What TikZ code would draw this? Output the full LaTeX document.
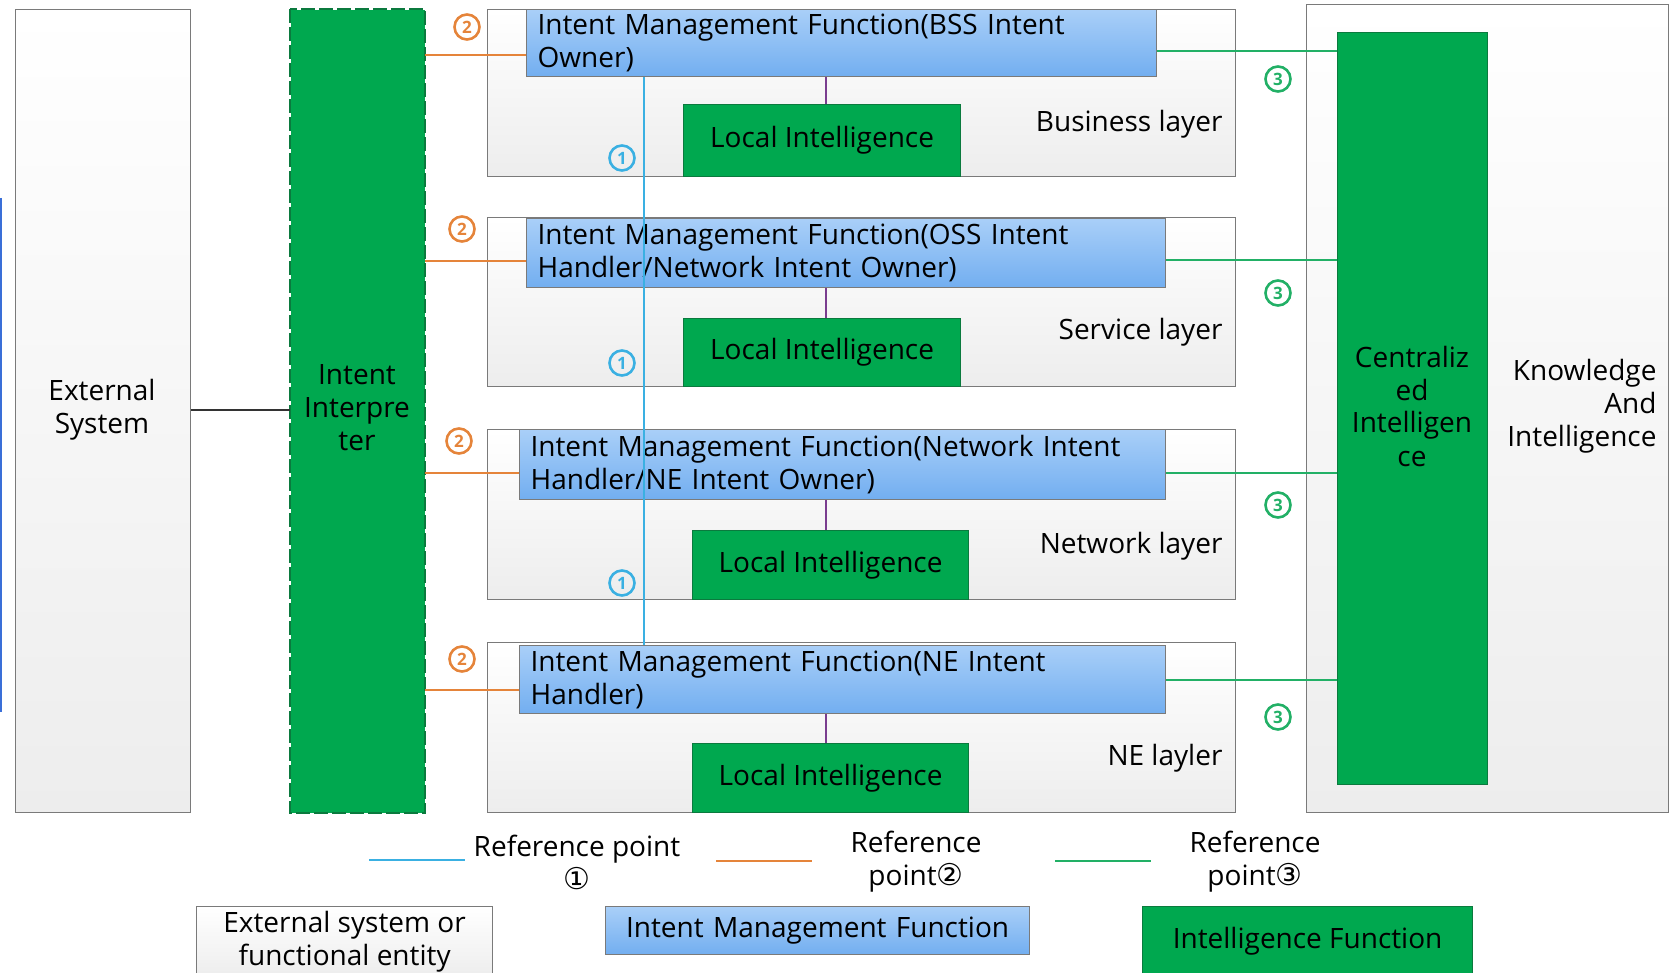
\documentclass[tikz,border=0pt]{standalone}
\usepackage{fontspec}
\setmainfont{Open Sans}
\newfontfamily\symfont{DejaVu Sans}
\usetikzlibrary{calc}
\definecolor{imfTop}{HTML}{A9CFF8}
\definecolor{imfBot}{HTML}{72AEF0}
\definecolor{intGreen}{HTML}{00A84F}
\definecolor{intBorder}{HTML}{0B7A3E}
\definecolor{boxBorder}{HTML}{7A7A7A}
\definecolor{layerBot}{HTML}{EDEDED}
\definecolor{refBlue}{HTML}{3AB0E2}
\definecolor{refOrange}{HTML}{E5843A}
\definecolor{refGreen}{HTML}{22B066}
\definecolor{refPurple}{HTML}{7A3D8F}
\definecolor{edgeBlue}{HTML}{3A6FD8}
\newcommand{\legcirc}[1]{{\symfont\fontsize{30}{30}\selectfont #1}}
\tikzset{
  txt/.style={font=\fontsize{28}{33}\selectfont, text=black},
  graybox/.style={draw=boxBorder, line width=1.2pt, top color=white, bottom color=layerBot, anchor=north west, inner sep=0pt},
  imfbox/.style={draw=boxBorder, line width=1.2pt, top color=imfTop, bottom color=imfBot, anchor=north west, inner xsep=11pt, inner ysep=0pt, align=left, txt},
  intbox/.style={draw=intBorder, line width=1.2pt, fill=intGreen, anchor=north west, inner sep=0pt, align=center, txt},
  circnum/.style={circle, draw, line width=2.6pt, minimum size=25pt, inner sep=0pt, font=\bfseries\fontsize{17}{17}\selectfont},
  reflineA/.style={refBlue, line width=2.2pt},
  reflineB/.style={refOrange, line width=2.2pt},
  reflineC/.style={refGreen, line width=2.2pt},
  linkline/.style={refPurple, line width=1.5pt},
}
\begin{document}
\begin{tikzpicture}[x=1pt, y=-1pt]
\useasboundingbox (0,0) rectangle (1671,973);
% left edge artifact line
\draw[edgeBlue, line width=2pt] (1,198) -- (1,712);

% External system
\node[graybox, minimum width=175, minimum height=803] (ext) at (15,9) {};
\node[txt, align=center] (extT) at (102,410) {External\\System};

% Intent interpreter
\node[intbox, draw=none, minimum width=134, minimum height=803] (interp) at (290,9) {};
\draw[intBorder, line width=1.6pt, dash pattern=on 14pt off 4pt] (interp.north west) rectangle (interp.south east);
\node[txt, align=center] (interpT) at (357,408) {Intent\\Interpre\\ter};

% Knowledge and intelligence
\node[graybox, minimum width=362, minimum height=808] (know) at (1306,4) {};
\node[intbox, minimum width=150, minimum height=752] (central) at (1337,32) {};
\node[txt, align=center] (centralT) at (1412,406) {Centraliz\\ed\\Intelligen\\ce};
\node[txt, align=right, anchor=east] (knowT) at (1660,406) {Knowledge\\And\\Intelligence};

% Layers
\node[graybox, minimum width=748, minimum height=167] (lay1) at (487,9) {};
\node[graybox, minimum width=748, minimum height=169] (lay2) at (487,217) {};
\node[graybox, minimum width=748, minimum height=170] (lay3) at (487,429) {};
\node[graybox, minimum width=748, minimum height=170] (lay4) at (487,642) {};

\node[txt, anchor=east] (lay1T) at (1226,124) {Business layer};
\node[txt, anchor=east] (lay2T) at (1226,332) {Service layer};
\node[txt, anchor=east] (lay3T) at (1226,546) {Network layer};
\node[txt, anchor=east] (lay4T) at (1226,758) {NE layler};

% IMF boxes
\node[imfbox, text width=608, minimum height=67] (imf1) at (526,9) {Intent Management Function(BSS Intent\\Owner)};
\node[imfbox, text width=617, minimum height=69] (imf2) at (526,218) {Intent Management Function(OSS Intent\\Handler/Network Intent Owner)};
\node[imfbox, text width=624, minimum height=70] (imf3) at (519,429) {Intent Management Function(Network Intent\\Handler/NE Intent Owner)};
\node[imfbox, text width=624, minimum height=68] (imf4) at (519,645) {Intent Management Function(NE Intent\\Handler)};

% Local intelligence
\node[intbox, minimum width=277, minimum height=72] (li1) at (683,104) {Local Intelligence};
\node[intbox, minimum width=277, minimum height=68] (li2) at (683,318) {Local Intelligence};
\node[intbox, minimum width=276, minimum height=69] (li3) at (692,530) {Local Intelligence};
\node[intbox, minimum width=276, minimum height=69] (li4) at (692,743) {Local Intelligence};

% IMF to local intelligence
\coordinate (pX) at (826,0);
\foreach \i in {1,2,3,4} {
  \draw[linkline] (imf\i.south -| pX) -- (li\i.north -| pX);
}

% External to interpreter
\draw[black!80, line width=2pt] (ext.east |- extT) -- (interp.west |- extT);

% Reference point 1 (vertical)
\coordinate (r1top) at ([xshift=118pt]imf1.south west);
\draw[reflineA] (r1top) -- (r1top |- imf4.north);

% Reference point 2 (orange)
\coordinate (o1) at ([yshift=-12pt]imf1.west);
\coordinate (o2) at ([yshift=-8pt]imf2.west);
\coordinate (o3) at ([yshift=-8pt]imf3.west);
\coordinate (o4) at ([yshift=-10pt]imf4.west);
\foreach \i in {1,2,3,4} {
  \draw[reflineB] (interp.east |- o\i) -- (o\i);
}

% Reference point 3 (green)
\coordinate (g1) at ([yshift=-8pt]imf1.east);
\coordinate (g2) at ([yshift=-7pt]imf2.east);
\coordinate (g3) at ([yshift=-8pt]imf3.east);
\coordinate (g4) at (imf4.east);
\foreach \i in {1,2,3,4} {
  \draw[reflineC] (g\i) -- (central.west |- g\i);
}

% circled numbers
\node[circnum, draw=refOrange, text=refOrange] (c2a) at (467,27) {2};
\node[circnum, draw=refOrange, text=refOrange] (c2b) at (462,229) {2};
\node[circnum, draw=refOrange, text=refOrange] (c2c) at (459,441) {2};
\node[circnum, draw=refOrange, text=refOrange] (c2d) at (462,659) {2};
\node[circnum, draw=refBlue, text=refBlue] (c1a) at (622,158) {1};
\node[circnum, draw=refBlue, text=refBlue] (c1b) at (622,363) {1};
\node[circnum, draw=refBlue, text=refBlue] (c1c) at (622,583) {1};
\node[circnum, draw=refGreen, text=refGreen] (c3a) at (1278,79) {3};
\node[circnum, draw=refGreen, text=refGreen] (c3b) at (1278,293) {3};
\node[circnum, draw=refGreen, text=refGreen] (c3c) at (1278,505) {3};
\node[circnum, draw=refGreen, text=refGreen] (c3d) at (1278,717) {3};

% Legend lines
\coordinate (la1) at (369,860); \coordinate (la2) at (465,860);
\coordinate (lb1) at (716,861); \coordinate (lb2) at (812,861);
\coordinate (lc1) at (1055,861); \coordinate (lc2) at (1151,861);
\draw[reflineA] (la1) -- (la2);
\draw[reflineB] (lb1) -- (lb2);
\draw[reflineC] (lc1) -- (lc2);
\node[txt, align=center] (legA) at (577,862) {Reference point\\\legcirc{①}};
\node[txt, align=center] (legB) at (916,862) {Reference\\point\legcirc{②}};
\node[txt, align=center] (legC) at (1255,862) {Reference\\point\legcirc{③}};

% Legend boxes
\node[graybox, minimum width=296, minimum height=70, txt, align=center] (legBox1) at (196,906) {External system or\\functional entity};
\node[imfbox, align=center, inner xsep=0pt, text width=424, minimum height=48] (legBox2) at (605,906) {Intent Management Function};
\node[intbox, minimum width=330, minimum height=70] (legBox3) at (1142,906) {Intelligence Function};
\end{tikzpicture}
\end{document}
